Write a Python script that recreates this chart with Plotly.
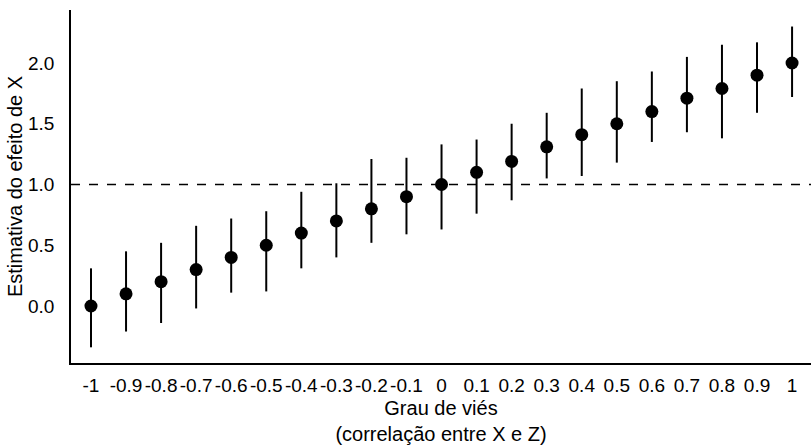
import plotly.graph_objects as go

bias = [-1, -0.9, -0.8, -0.7, -0.6, -0.5, -0.4, -0.3, -0.2, -0.1, 0,
        0.1, 0.2, 0.3, 0.4, 0.5, 0.6, 0.7, 0.8, 0.9, 1]
tick_labels = ["-1", "-0.9", "-0.8", "-0.7", "-0.6", "-0.5", "-0.4", "-0.3", "-0.2", "-0.1", "0",
               "0.1", "0.2", "0.3", "0.4", "0.5", "0.6", "0.7", "0.8", "0.9", "1"]
estimate = [0.00, 0.10, 0.20, 0.30, 0.40, 0.50, 0.60, 0.70, 0.80, 0.90, 1.00,
            1.10, 1.19, 1.31, 1.41, 1.50, 1.60, 1.71, 1.79, 1.90, 2.00]
upper = [0.31, 0.45, 0.52, 0.66, 0.72, 0.78, 0.94, 1.01, 1.21, 1.22, 1.33,
         1.37, 1.50, 1.59, 1.79, 1.85, 1.93, 2.05, 2.15, 2.17, 2.30]
lower = [-0.34, -0.21, -0.14, -0.02, 0.11, 0.12, 0.31, 0.40, 0.52, 0.59, 0.63,
         0.76, 0.87, 1.05, 1.07, 1.18, 1.35, 1.43, 1.38, 1.59, 1.72]
reference_value = 1.0

err_plus = [u - e for u, e in zip(upper, estimate)]
err_minus = [e - l for e, l in zip(estimate, lower)]

fig = go.Figure()
fig.add_trace(go.Scatter(
    x=bias, y=estimate, mode="markers",
    marker=dict(color="black", size=13),
    error_y=dict(type="data", symmetric=False, array=err_plus, arrayminus=err_minus,
                 color="black", thickness=2, width=0),
    showlegend=False,
))
fig.add_shape(type="line", xref="paper", yref="y", x0=0, x1=1,
              y0=reference_value, y1=reference_value,
              line=dict(color="black", width=1.5, dash="dash"), layer="below")

font_family = "Liberation Sans, Arial, sans-serif"
fig.update_layout(
    width=811, height=448,
    margin=dict(l=71, r=0, t=10, b=85),
    paper_bgcolor="white", plot_bgcolor="white",
    font=dict(family=font_family, color="black", size=19),
    xaxis=dict(
        range=[-1.057, 1.054], tickvals=bias, ticktext=tick_labels,
        showgrid=False, zeroline=False, showline=True, linecolor="black", linewidth=1.5,
        ticks="", ticklabelstandoff=4, tickfont=dict(size=19),
        title=dict(text="Grau de viés<br>(correlação entre X e Z)", font=dict(size=20), standoff=6),
    ),
    yaxis=dict(
        range=[-0.469, 2.436], tickvals=[0, 0.5, 1.0, 1.5, 2.0],
        ticktext=["0.0", "0.5", "1.0", "1.5", "2.0"],
        showgrid=False, zeroline=False, showline=True, linecolor="black", linewidth=1.5,
        ticks="", ticklabelstandoff=11, tickfont=dict(size=19),
        title=dict(text="Estimativa do efeito de X", font=dict(size=20), standoff=0),
    ),
)
fig.write_html("out.html")
